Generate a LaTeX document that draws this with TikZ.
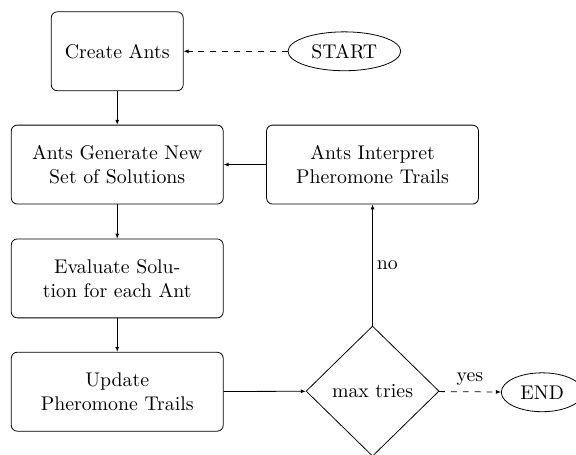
\documentclass[tikz,border=0pt]{standalone}
\usepackage{amsmath,amssymb}
\usepackage{tikz}
\usetikzlibrary{arrows.meta, positioning, shapes.geometric}

\begin{document}
\begin{tikzpicture}[
    proc/.style={draw, minimum width=3.76cm, minimum height=1.4cm, rounded corners=3pt, align=center},
    term/.style={draw, ellipse, minimum height=0.69cm, inner sep=1pt},
    decide/.style={draw, diamond, minimum width=2.36cm, minimum height=2.31cm, inner sep=0pt},
    arr/.style={-{Latex[length=2.5pt, width=2pt]}},
    lbl/.style={inner sep=2pt}
]
    \clip[use as bounding box] (0,0) rectangle (10.22,-8.06);

    % Steps
    \node[proc, minimum width=2.34cm] (create) at (2.08, -0.91) {Create Ants};
    \node[proc] (gen)    at (2.08, -2.92) {Ants Generate New\\Set of Solutions};
    \node[proc] (interp) at (6.61, -2.92) {Ants Interpret\\Pheromone Trails};
    \node[proc] (eval)   at (2.08, -4.94) {Evaluate Solu-\\tion for each Ant};
    \node[proc] (update) at (2.08, -6.95) {Update\\Pheromone Trails};
    \node[decide] (test) at (6.61, -6.94) {max tries};

    % Start / end
    \node[term, minimum width=2.0cm]  (start) at (6.11, -0.91) {START};
    \node[term, minimum width=1.45cm] (stop)  at (9.62, -6.96) {END};

    % Main flow
    \draw[arr, dashed] (start) -- (create);
    \draw[arr] (create) -- (gen);
    \draw[arr] (gen) -- (eval);
    \draw[arr] (eval) -- (update);
    \draw[arr] (update) -- (test);

    % Loop back
    \draw[arr] (test) -- node[lbl, right, pos=0.5] {no} (interp);
    \draw[arr] (interp) -- (gen);

    % Exit
    \draw[arr, dashed] (test) -- node[lbl, above, yshift=1pt] {yes} (stop);
\end{tikzpicture}
\end{document}
